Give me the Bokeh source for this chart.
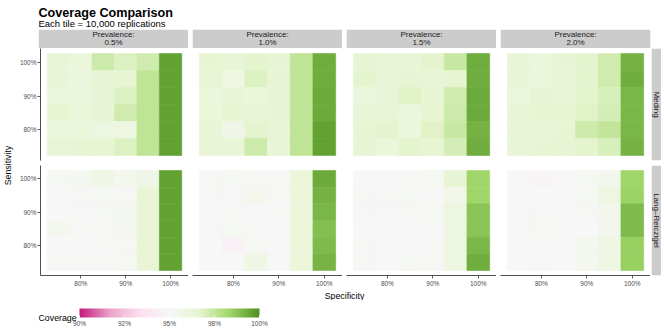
import numpy as np
from bokeh.plotting import figure
from bokeh.layouts import column, row
from bokeh.models import (ColumnDataSource, LinearColorMapper, ColorBar, FixedTicker,
                          LinearAxis, Range1d, PrintfTickFormatter)
from bokeh.transform import transform
from bokeh.core.properties import value
from bokeh.embed import file_html
from bokeh.resources import INLINE

FONT = "Liberation Sans"

# ---------------- data ----------------
specificity = [75, 80, 85, 90, 95, 100]          # columns, left -> right
sensitivity = [100, 95, 90, 85, 80, 75]          # rows, top -> bottom
prevalences = ["0.5%", "1.0%", "1.5%", "2.0%"]
methods = ["Meding", "Lang\u2013Reiczigel"]
axis_ticks = [80, 90, 100]
legend_ticks = [90, 92.5, 95, 97.5, 100]
legend_labels = ["90%", "92%", "95%", "98%", "100%"]

# coverage (%) ; rows = sensitivity 100..75, cols = specificity 75..100
meding_05 = [[96.3, 96.2, 97.3, 96.9, 97.2, 99.6],
             [96.3, 96.1, 96.5, 96.6, 97.6, 99.6],
             [96.2, 96.1, 96.5, 96.9, 97.6, 99.6],
             [96.6, 96.2, 96.5, 97.2, 97.6, 99.6],
             [96.1, 96.2, 96.0, 95.9, 97.6, 99.6],
             [96.3, 96.5, 96.6, 96.9, 97.6, 99.6]]
meding_10 = [[96.6, 96.4, 96.7, 96.5, 97.6, 99.3],
             [96.4, 95.9, 96.9, 96.5, 97.6, 99.3],
             [96.2, 96.3, 96.2, 96.5, 97.6, 99.4],
             [96.2, 96.6, 96.3, 96.5, 97.6, 99.4],
             [96.4, 95.7, 96.7, 96.4, 97.6, 99.6],
             [96.3, 96.3, 97.3, 96.4, 97.6, 99.6]]
meding_15 = [[96.5, 96.3, 96.3, 96.7, 97.4, 99.3],
             [96.7, 96.4, 96.5, 96.4, 96.6, 99.3],
             [96.1, 96.3, 96.8, 96.6, 97.2, 99.4],
             [96.4, 96.4, 96.2, 96.6, 97.3, 99.4],
             [96.5, 96.7, 96.1, 96.8, 97.4, 99.2],
             [96.5, 96.2, 96.7, 96.6, 97.1, 99.3]]
meding_20 = [[96.3, 96.2, 96.5, 96.7, 97.2, 99.2],
             [96.3, 96.2, 96.4, 96.7, 97.2, 99.3],
             [96.2, 96.5, 96.4, 96.7, 97.0, 99.1],
             [96.3, 96.6, 96.6, 96.8, 97.1, 99.1],
             [96.4, 96.3, 96.5, 97.3, 97.5, 99.1],
             [96.3, 96.5, 96.5, 96.7, 97.0, 99.2]]
lang_05 = [[95.2, 95.3, 95.8, 95.4, 95.7, 99.6],
           [95.0, 95.1, 95.2, 95.1, 96.3, 99.6],
           [95.0, 94.9, 95.2, 95.3, 96.3, 99.6],
           [95.4, 95.1, 95.1, 95.3, 96.3, 99.6],
           [95.0, 95.0, 95.1, 95.1, 96.3, 99.6],
           [95.1, 95.1, 95.1, 95.2, 96.3, 99.6]]
lang_10 = [[95.1, 95.2, 95.1, 95.1, 96.2, 99.4],
           [95.1, 94.9, 95.4, 95.1, 96.2, 99.2],
           [95.0, 95.1, 95.0, 95.1, 96.2, 99.1],
           [94.9, 95.2, 95.1, 95.0, 96.2, 98.9],
           [95.0, 94.6, 95.2, 95.0, 96.2, 99.0],
           [95.0, 95.0, 95.8, 95.0, 96.2, 99.15]]
lang_15 = [[95.0, 95.0, 95.1, 95.2, 96.5, 98.35],
           [95.1, 95.1, 95.2, 95.0, 95.6, 98.35],
           [94.9, 94.9, 95.1, 95.2, 96.0, 98.75],
           [95.0, 95.0, 95.0, 95.0, 96.0, 98.75],
           [95.1, 95.1, 95.0, 95.1, 96.0, 99.1],
           [95.1, 95.0, 95.2, 95.1, 96.0, 99.3]]
lang_20 = [[95.0, 94.8, 95.0, 95.2, 95.5, 98.35],
           [95.0, 95.0, 95.0, 95.2, 95.9, 98.4],
           [94.9, 95.1, 95.0, 95.1, 95.5, 99.0],
           [95.0, 95.2, 95.1, 95.0, 95.5, 99.0],
           [95.0, 94.9, 95.0, 95.4, 95.8, 98.5],
           [95.0, 95.1, 95.0, 95.4, 95.8, 98.5]]

coverage = [[meding_05, meding_10, meding_15, meding_20],
            [lang_05, lang_10, lang_15, lang_20]]

# ---------------- styling ----------------
piyg7 = ["#c51b7d", "#e9a3c9", "#fde0ef", "#f7f7f7", "#e6f5d0", "#a1d76a", "#4d9221"]


def ramp(stops, n=256):
    rgb = np.array([[int(c[i:i + 2], 16) for i in (1, 3, 5)] for c in stops], float)
    pos = np.linspace(0, 1, len(stops))
    t = np.linspace(0, 1, n)
    out = np.stack([np.interp(t, pos, rgb[:, k]) for k in range(3)], 1)
    return ["#%02x%02x%02x" % tuple(int(round(v)) for v in c) for c in out]


mapper = LinearColorMapper(palette=ramp(piyg7), low=90, high=100)

STRIP = "#cccccc"
TICK_COL = "#4d4d4d"
FRAME_W = 150
TOP_H, BOT_H = 112, 112
GAP_BELOW_TOP = 5
AXIS_H = 12
YLAB_W = 16
LEFT_AXIS_W = 22
PANEL_GAP = 4
RSTRIP_W = 11
TOTAL_W = YLAB_W + LEFT_AXIS_W + 4 * FRAME_W + 3 * PANEL_GAP + RSTRIP_W


def base_fig(width, height, xr, yr, **kw):
    p = figure(width=width, height=height, x_range=xr, y_range=yr,
               output_backend="svg", toolbar_location=None,
               x_axis_location=None, y_axis_location=None,
               min_border_left=kw.get("left", 0), min_border_right=kw.get("right", 0),
               min_border_top=kw.get("top", 0), min_border_bottom=kw.get("bottom", 0))
    p.outline_line_color = None
    p.grid.visible = False
    p.background_fill_color = "white"
    p.border_fill_color = "white"
    return p


def style_axis(ax):
    ax.ticker = FixedTicker(ticks=axis_ticks)
    ax.formatter = PrintfTickFormatter(format="%d%%")
    ax.major_label_text_font = FONT
    ax.major_label_text_font_size = "6.5px"
    ax.major_label_text_color = TICK_COL
    ax.axis_line_color = "#222222"
    ax.axis_line_width = 0.8
    ax.major_tick_line_color = "#333333"
    ax.major_tick_line_width = 0.8
    ax.major_tick_in = 0
    ax.major_tick_out = 3
    ax.minor_tick_line_color = None
    ax.major_label_standoff = 1


def panel(mi, pi):
    first = pi == 0
    bottom = mi == len(methods) - 1
    left = LEFT_AXIS_W if first else PANEL_GAP
    below = AXIS_H if bottom else GAP_BELOW_TOP
    p = base_fig(FRAME_W + left, (BOT_H if bottom else TOP_H) + below,
                 Range1d(71, 104), Range1d(71, 104), left=left, bottom=below)
    grid = coverage[mi][pi]
    xs, ys, cs = [], [], []
    for r, sens in enumerate(sensitivity):
        for c, spec in enumerate(specificity):
            xs.append(spec)
            ys.append(sens)
            cs.append(grid[r][c])
    src = ColumnDataSource(dict(x=xs, y=ys, cov=cs))
    p.rect(x="x", y="y", width=5, height=5, source=src,
           fill_color=transform("cov", mapper), line_color=transform("cov", mapper),
           line_width=0.6)
    if first:
        ax = LinearAxis()
        style_axis(ax)
        p.add_layout(ax, "left")
    if bottom:
        ax = LinearAxis()
        style_axis(ax)
        p.add_layout(ax, "below")
    return p


def top_strip(pi):
    left = YLAB_W + LEFT_AXIS_W if pi == 0 else PANEL_GAP
    right = RSTRIP_W if pi == len(prevalences) - 1 else 0
    p = base_fig(FRAME_W + left + right, 19, Range1d(0, 1), Range1d(0, 1),
                 left=left, right=right)
    p.quad(left=[0], right=[1], bottom=[0], top=[1], fill_color=STRIP, line_color=None)
    p.text(x=[0.5, 0.5], y=[0.72, 0.29], text=["Prevalence:", prevalences[pi]],
           text_font=value(FONT), text_font_size="8px", text_color="#1a1a1a",
           text_align="center", text_baseline="middle")
    return p


def right_strip(mi):
    bottom = mi == len(methods) - 1
    below = AXIS_H if bottom else GAP_BELOW_TOP
    p = base_fig(RSTRIP_W, (BOT_H if bottom else TOP_H) + below,
                 Range1d(0, 1), Range1d(0, 1), left=1, bottom=below)
    p.quad(left=[0], right=[1], bottom=[0], top=[1], fill_color=STRIP, line_color=None)
    p.text(x=[0.5], y=[0.5], text=[methods[mi]], angle=-np.pi / 2,
           text_font=value(FONT), text_font_size="8px", text_color="#1a1a1a",
           text_align="center", text_baseline="middle")
    return p


# header (page pixel coordinates)
header = base_fig(TOTAL_W, 29, Range1d(0, TOTAL_W), Range1d(29, 0))
header.text(x=[38], y=[12], text=["Coverage Comparison"], text_font=value(FONT),
            text_font_size="12.6px", text_font_style="bold", text_color="black",
            text_align="left", text_baseline="alphabetic")
header.text(x=[38], y=[23], text=["Each tile = 10,000 replications"], text_font=value(FONT),
            text_font_size="9.5px", text_color="black",
            text_align="left", text_baseline="alphabetic")

strips = row([top_strip(i) for i in range(len(prevalences))], spacing=0)

rows = []
for mi in range(len(methods)):
    rows.append(row([panel(mi, pi) for pi in range(len(prevalences))] + [right_strip(mi)],
                    spacing=0))

ylab_h = TOP_H + GAP_BELOW_TOP + BOT_H + AXIS_H
ylab = base_fig(YLAB_W, ylab_h, Range1d(0, YLAB_W), Range1d(ylab_h, 0))
ylab.text(x=[7.5], y=[117], text=["Sensitivity"], angle=np.pi / 2, text_font=value(FONT),
          text_font_size="8.8px", text_color="black", text_align="center",
          text_baseline="middle")

middle = row([ylab, column(rows, spacing=0)], spacing=0)

xtitle = base_fig(TOTAL_W, 11, Range1d(0, TOTAL_W), Range1d(11, 0))
xtitle.text(x=[344], y=[5], text=["Specificity"], text_font=value(FONT),
            text_font_size="8.8px", text_color="black", text_align="center",
            text_baseline="middle")

LEG_H = 31
legend = base_fig(TOTAL_W, LEG_H, Range1d(0, TOTAL_W), Range1d(LEG_H, 0))
legend.text(x=[38], y=[17.5], text=["Coverage"], text_font=value(FONT),
            text_font_size="8.8px", text_color="black", text_align="left",
            text_baseline="middle")
cbar = ColorBar(color_mapper=mapper, orientation="horizontal", width=180, height=9,
                location=(79, 2), padding=0, title=None,
                ticker=FixedTicker(ticks=legend_ticks),
                major_label_overrides={t: l for t, l in zip(legend_ticks, legend_labels)},
                major_label_text_font=FONT, major_label_text_font_size="6.5px",
                major_label_text_color=TICK_COL, label_standoff=2,
                major_tick_line_color="white", major_tick_in=2, major_tick_out=0,
                minor_tick_line_color=None, bar_line_color=None,
                background_fill_color=None, border_line_color=None)
legend.add_layout(cbar, "center")

layout = column([header, strips, middle, xtitle, legend], spacing=0)

with open("out.html", "w") as f:
    f.write(file_html(layout, INLINE))
